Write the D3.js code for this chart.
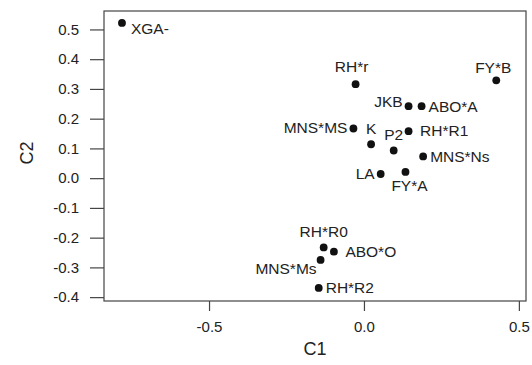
<!DOCTYPE html>
<html><head><meta charset="utf-8">
<script src="https://cdn.jsdelivr.net/npm/d3@7"></script>
<style>body{margin:0;background:#fff}text{font-family:"Liberation Sans",Arial,sans-serif}</style>
</head><body><svg id="c" width="532" height="365"></svg>
<script>
const labels = ["XGA-","RH*r","FY*B","JKB","ABO*A","MNS*MS","RH*R1","K","P2","MNS*Ns","LA","FY*A","RH*R0","ABO*O","MNS*Ms","RH*R2"];
const c1 = [-0.781,-0.027,0.427,0.144,0.186,-0.034,0.144,0.023,0.096,0.191,0.054,0.134,-0.130,-0.097,-0.140,-0.146];
const c2 = [0.522,0.316,0.329,0.242,0.242,0.167,0.158,0.114,0.093,0.073,0.014,0.021,-0.233,-0.247,-0.275,-0.369];
const labelPos = ["rightLow","aboveFar","aboveNear","leftHigh","right","left","rightFar","above","above","right","left","below","above","rightFar","leftBelow","right"];
const xTicks = [-0.5,0.0,0.5];
const yTicks = [0.5,0.4,0.3,0.2,0.1,0.0,-0.1,-0.2,-0.3,-0.4];

const svg = d3.select("#c");
const L=104,R=526,T=11,B=301;
const x = d3.scaleLinear().domain([-0.839,0.523]).range([L,R]);
const y = d3.scaleLinear().domain([-0.413,0.562]).range([B,T]);
const ink="#222";

svg.append("rect").attr("x",L).attr("y",T).attr("width",R-L).attr("height",B-T)
  .attr("fill","none").attr("stroke","#444").attr("stroke-width",1.2);

const fmt = d=>d3.format(".1f")(d).replace("−","-");
const gx = svg.append("g").attr("transform",`translate(0,${B})`)
  .call(d3.axisBottom(x).tickValues(xTicks).tickFormat(fmt).tickSize(10).tickPadding(10));
const gy = svg.append("g").attr("transform",`translate(${L},0)`)
  .call(d3.axisLeft(y).tickValues(yTicks).tickFormat(fmt).tickSize(14).tickPadding(11));
[gx,gy].forEach(g=>{
  g.select(".domain").remove();
  g.selectAll(".tick line").attr("stroke","#444").attr("stroke-width",1.2);
  g.selectAll(".tick text").attr("fill",ink).style("font-size","15px").style("font-family","Liberation Sans, Arial, sans-serif");
});

svg.append("text").attr("x",(L+R)/2).attr("y",355).attr("text-anchor","middle")
  .attr("fill",ink).style("font-size","18px").text("C1");
svg.append("text").attr("transform",`translate(33,153) rotate(-90)`).attr("text-anchor","middle")
  .attr("fill",ink).style("font-size","18px").text("C2");

const data = labels.map((l,i)=>({l,x:c1[i],y:c2[i],p:labelPos[i]}));
svg.append("g").selectAll("circle").data(data).join("circle")
  .attr("cx",d=>x(d.x)).attr("cy",d=>y(d.y)).attr("r",3.9).attr("fill","#111");

const off = {
  right:[7,5.5,"start"], rightFar:[11.5,5,"start"], rightLow:[9,11,"start"],
  left:[-6,5,"end"], leftHigh:[-6,1,"end"], leftBelow:[-4,14,"end"],
  above:[0,-10,"middle"], aboveFar:[-4,-12.5,"middle"], aboveNear:[-3,-7.5,"middle"],
  below:[4,19,"middle"]
};
svg.append("g").selectAll("text").data(data).join("text")
  .attr("x",d=>x(d.x)+off[d.p][0]).attr("y",d=>y(d.y)+off[d.p][1])
  .attr("text-anchor",d=>off[d.p][2]).attr("fill",ink).style("font-size","15.5px").text(d=>d.l);
</script></body></html>
